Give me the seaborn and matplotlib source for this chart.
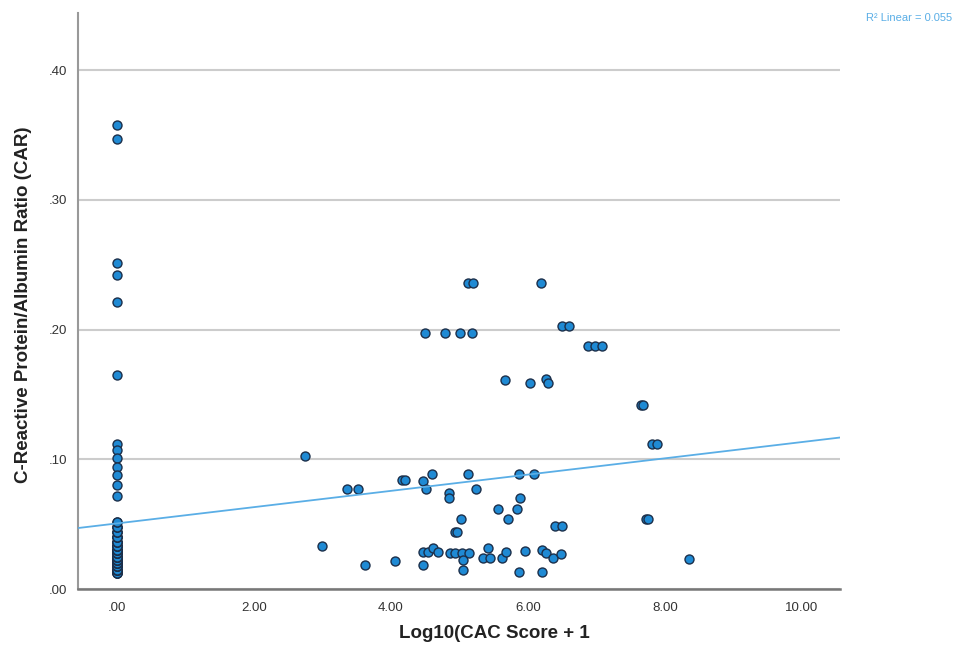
import numpy as np
import pandas as pd
import matplotlib
matplotlib.use("Agg")
import matplotlib.pyplot as plt
import seaborn as sns

# CAC = 0 group: points that stand out in the column
zero_high_car = [0.358, 0.347, 0.251, 0.242, 0.221, 0.165,
                 0.112, 0.107, 0.101, 0.094, 0.088, 0.080, 0.072]
# dense, overlapping low part of the CAC = 0 column (value, count)
zero_low_car = [0.012, 0.015, 0.018, 0.020, 0.022, 0.025, 0.028,
                0.030, 0.033, 0.036, 0.040, 0.044, 0.048, 0.052]
zero_low_count = [4, 5, 6, 6, 6, 6, 6, 5, 5, 4, 4, 3, 3, 2]

# CAC > 0 group
cac_log = [5.12, 5.20, 6.19, 4.50, 4.79, 5.01, 5.18, 6.50, 6.60,
           5.66, 6.03, 6.26, 6.29, 2.74, 3.36, 3.52, 4.16, 4.20,
           4.47, 4.60, 4.51, 4.85, 4.85, 5.12, 5.24, 5.87, 6.09,
           5.88, 5.56, 5.84, 5.71, 5.02, 4.93, 4.96, 6.39, 6.50,
           2.99, 3.62, 4.06, 4.47, 4.47, 4.54, 4.61, 4.69, 4.86,
           4.93, 5.04, 5.14, 5.05, 5.05, 5.34, 5.45, 5.42, 5.62,
           5.68, 5.96, 5.87, 6.20, 6.20, 6.26, 6.37, 6.48, 6.88,
           6.98, 7.08, 7.65, 7.68, 7.81, 7.88, 7.72, 7.75, 8.35]
car = [0.236, 0.236, 0.236, 0.197, 0.197, 0.197, 0.197, 0.203, 0.203,
       0.161, 0.159, 0.162, 0.159, 0.1025, 0.077, 0.077, 0.084, 0.084,
       0.083, 0.0886, 0.077, 0.074, 0.070, 0.0886, 0.077, 0.089, 0.089,
       0.070, 0.062, 0.062, 0.054, 0.054, 0.044, 0.044, 0.0486, 0.0486,
       0.033, 0.0185, 0.0216, 0.0185, 0.0285, 0.0285, 0.032, 0.0285, 0.028,
       0.028, 0.028, 0.028, 0.022, 0.0146, 0.024, 0.024, 0.032, 0.024,
       0.0285, 0.029, 0.013, 0.013, 0.030, 0.028, 0.024, 0.027, 0.187,
       0.187, 0.187, 0.142, 0.142, 0.112, 0.112, 0.054, 0.054, 0.023]

x_ticks = [0, 2, 4, 6, 8, 10]
x_tick_labels = [".00", "2.00", "4.00", "6.00", "8.00", "10.00"]
y_ticks = [0.0, 0.1, 0.2, 0.3, 0.4]
y_tick_labels = [".00", ".10", ".20", ".30", ".40"]
r2_label = "R² Linear = 0.055"

zero_car = zero_high_car + list(np.repeat(zero_low_car, zero_low_count))
df = pd.DataFrame({
    "cac": [0.0] * len(zero_car) + cac_log,
    "car": zero_car + car,
})

sns.set_style("white")
plt.rcParams["font.family"] = ["Liberation Sans", "DejaVu Sans"]

fig = plt.figure(figsize=(9.57, 6.56), dpi=100)
ax = fig.add_axes([0.0815, 0.1021, 0.7962, 0.878])
ax.set_xlim(-0.57, 10.555)
ax.set_ylim(0, 0.444)

ax.yaxis.grid(True, color="#cccccc", linewidth=1.5)
ax.set_axisbelow(True)

sns.scatterplot(data=df, x="cac", y="car", ax=ax, s=42,
                color="#1f8ad4", edgecolor="#1b2f4a", linewidth=1.0,
                zorder=3)
sns.regplot(data=df, x="cac", y="car", ax=ax, scatter=False, ci=None,
            truncate=False, line_kws={"color": "#5aaee6", "lw": 1.3,
                                      "zorder": 4})

ax.set_xlim(-0.57, 10.555)
ax.set_ylim(0, 0.444)
ax.set_xticks(x_ticks)
ax.set_xticklabels(x_tick_labels)
ax.set_yticks(y_ticks)
ax.set_yticklabels(y_tick_labels)
ax.tick_params(axis="both", length=0, labelsize=9.5, colors="#333333")
ax.tick_params(axis="x", pad=9)
ax.tick_params(axis="y", pad=8)

for side in ["top", "right"]:
    ax.spines[side].set_visible(False)
ax.spines["left"].set_color("#999999")
ax.spines["left"].set_linewidth(1.5)
ax.spines["bottom"].set_color("#777777")
ax.spines["bottom"].set_linewidth(1.8)

ax.set_xlabel("Log10(CAC Score + 1", fontsize=13.5, fontweight="bold",
              color="#222222")
ax.set_ylabel("C-Reactive Protein/Albumin Ratio (CAR)", fontsize=13.5,
              fontweight="bold", color="#222222")
ax.xaxis.set_label_coords(0.546, -0.063)
ax.yaxis.set_label_coords(-0.060, 0.493)

fig.text(0.995, 1 - 18 / 656, r2_label, ha="right", va="center",
         fontsize=8, color="#5aaee6")

fig.savefig("out.png", dpi=100)
